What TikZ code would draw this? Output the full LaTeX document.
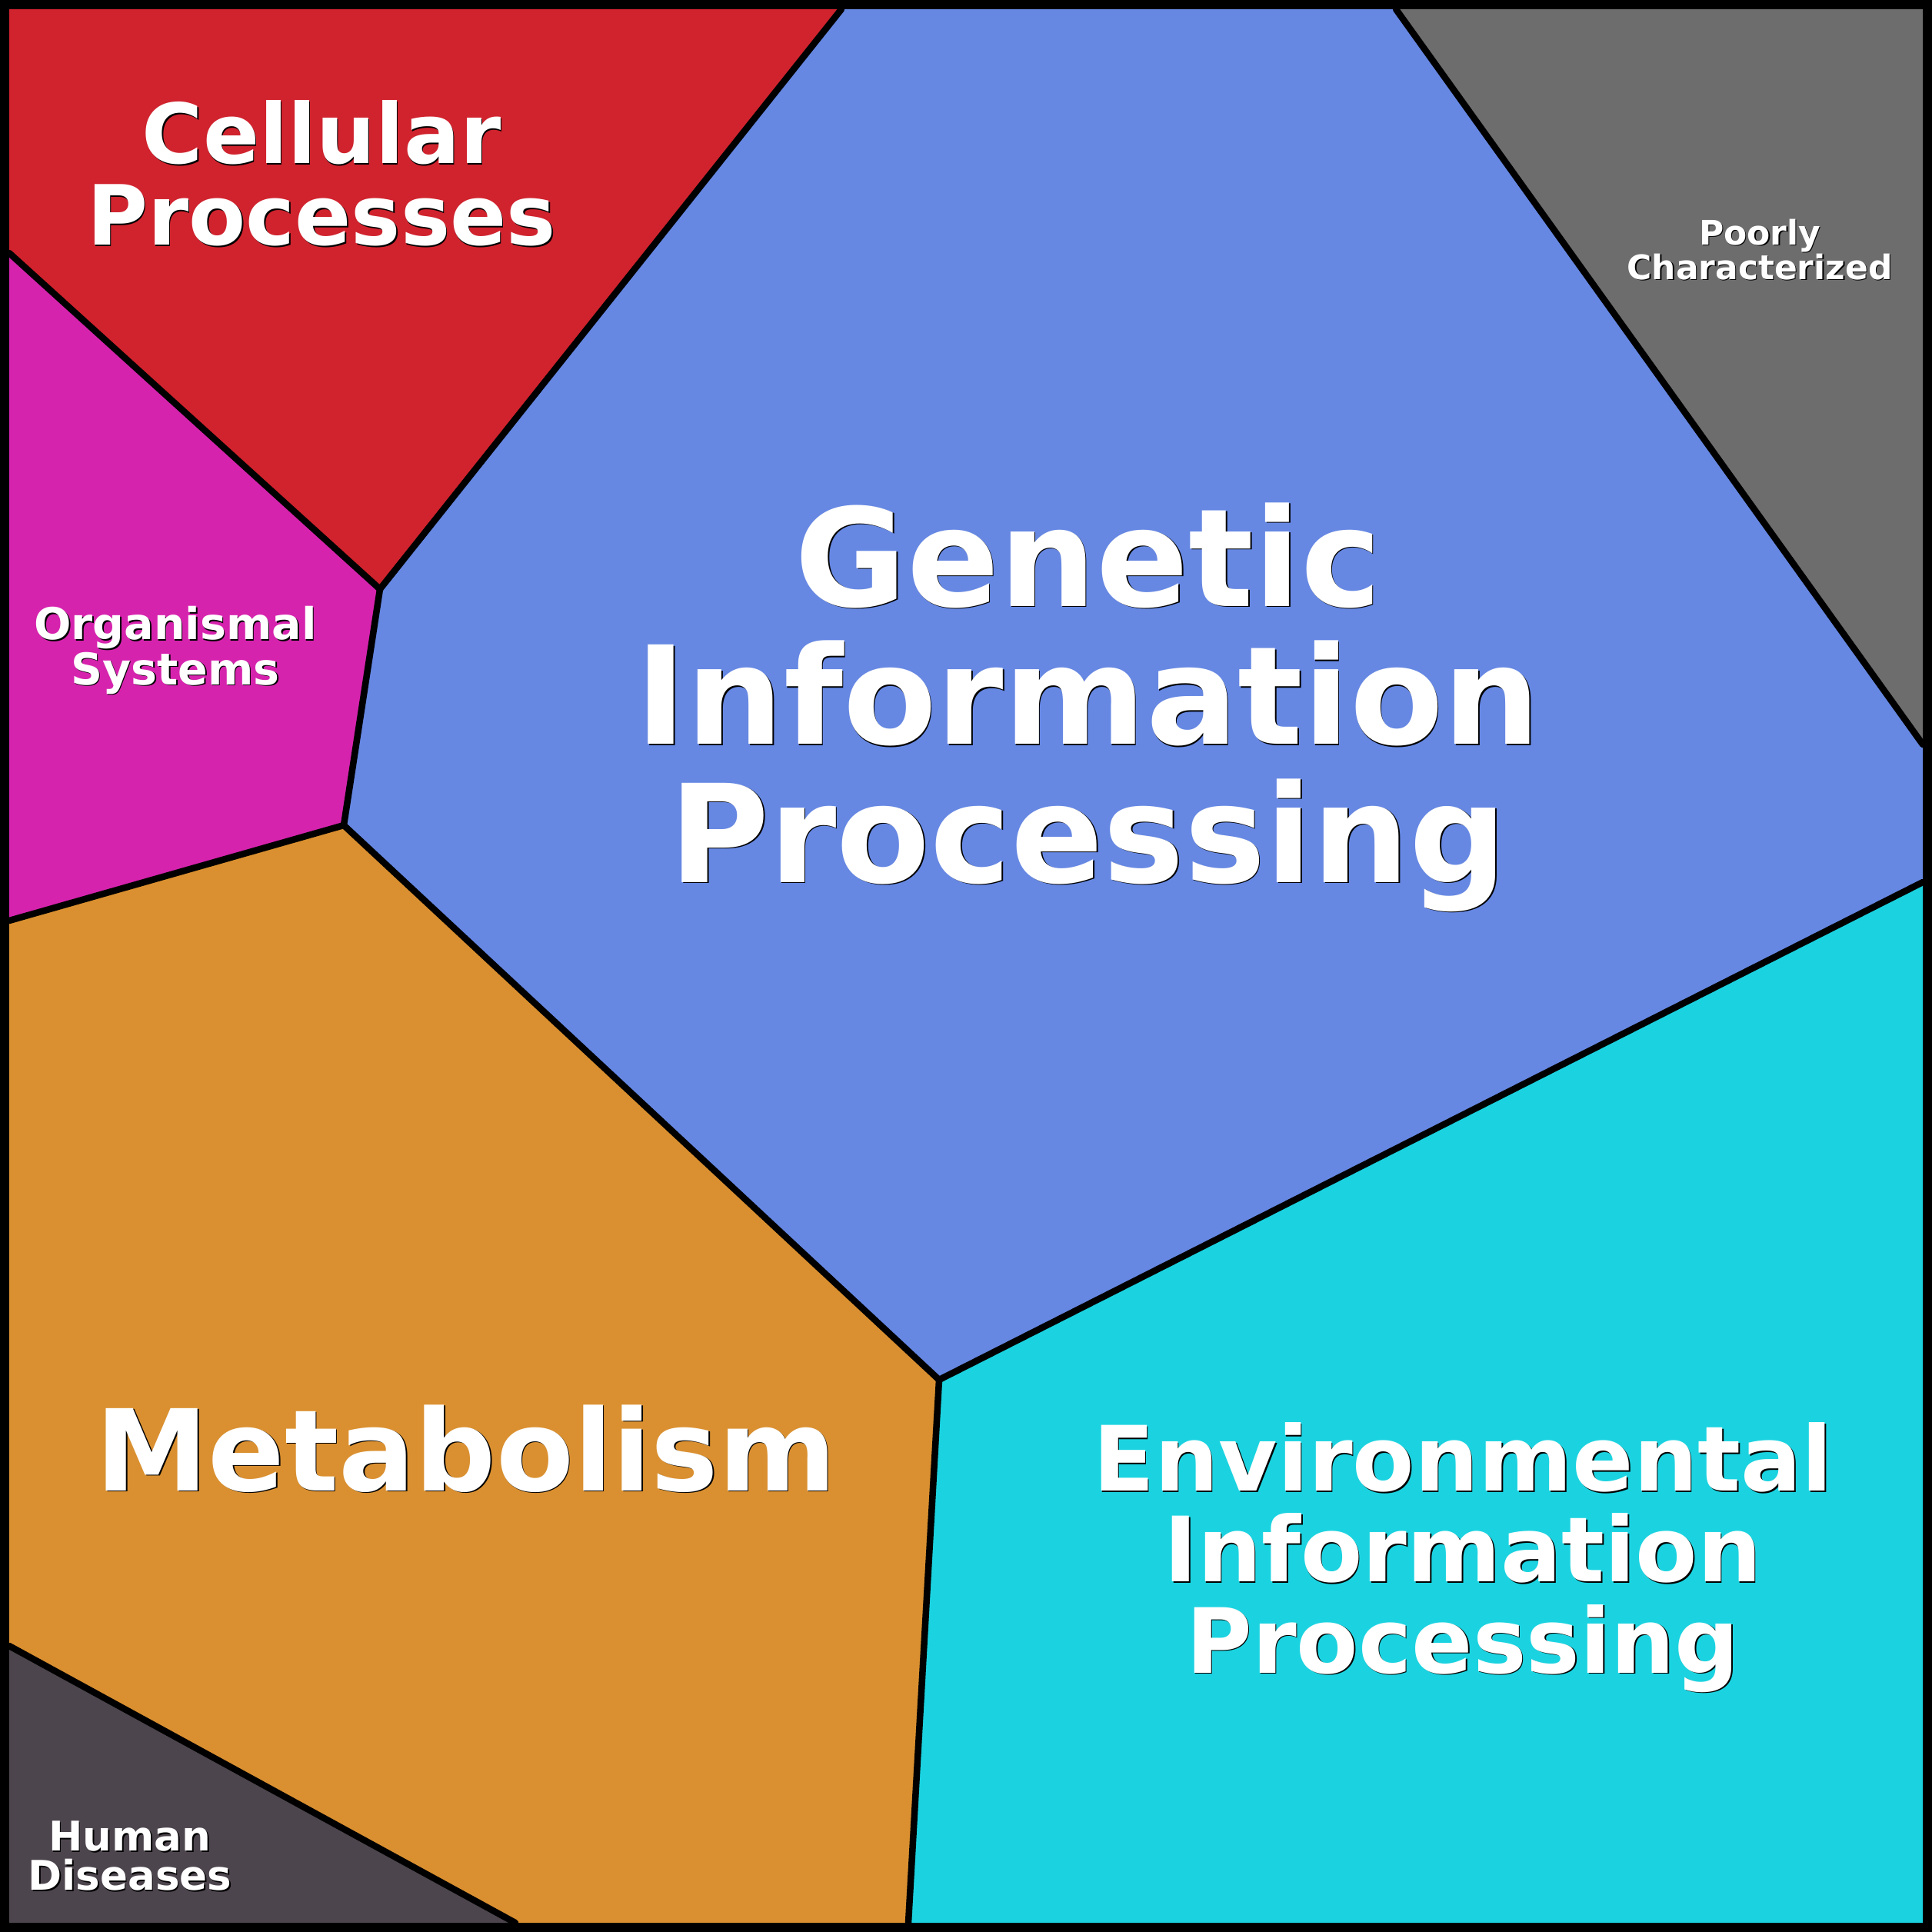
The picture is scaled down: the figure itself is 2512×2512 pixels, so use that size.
\documentclass[tikz,border=0pt]{standalone}
\usepackage{fontspec}
\setmainfont{DejaVu Sans}
\definecolor{cellred}{HTML}{D0232E}
\definecolor{orgmagenta}{HTML}{D623AE}
\definecolor{genblue}{HTML}{6688E3}
\definecolor{poorgray}{HTML}{6D6D6D}
\definecolor{metorange}{HTML}{DA9030}
\definecolor{humandark}{HTML}{4D454D}
\definecolor{envcyan}{HTML}{1BD3E0}
\tikzset{
        border/.style={draw=black, line width=0.085cm, line join=round, line cap=round},
        catname/.style={text=white, inner sep=0pt, align=center, anchor=north},
        shadowed/.style={text=black, xshift=0.45pt, yshift=-0.45pt}
          }
% name, position, font size and skip, text
\newcommand{\keggname}[4]{%
  \node[catname, shadowed, font={\bfseries\fontsize#3\selectfont}] (#1-shadow) at (#2) {#4};
  \node[catname, font={\bfseries\fontsize#3\selectfont}] (#1) at (#2) {#4};}

\begin{document}
\begin{tikzpicture}[x=0.01cm, y=-0.01cm]
        \fill[black] (0,0) rectangle (2512,2512);
        % corners and cell vertices
        \coordinate (c1) at (12,12);
        \coordinate (c2) at (2500,12);
        \coordinate (c3) at (2500,2500);
        \coordinate (c4) at (12,2500);
        \coordinate (p1) at (1094,12);
        \coordinate (p2) at (1815,12);
        \coordinate (p3) at (2500,968);
        \coordinate (p4) at (2500,1147);
        \coordinate (p5) at (1221,1794);
        \coordinate (p6) at (1181,2500);
        \coordinate (p7) at (670,2500);
        \coordinate (p8) at (12,2140);
        \coordinate (p9) at (12,1197);
        \coordinate (p10) at (447,1073);
        \coordinate (p11) at (494,766);
        \coordinate (p12) at (12,329);
        % cells
        \fill[cellred] (c1) -- (p1) -- (p11) -- (p12) -- cycle;
        \fill[orgmagenta] (p12) -- (p11) -- (p10) -- (p9) -- cycle;
        \fill[genblue] (p1) -- (p2) -- (p3) -- (p4) -- (p5) -- (p10) -- (p11) -- cycle;
        \fill[poorgray] (p2) -- (c2) -- (p3) -- cycle;
        \fill[metorange] (p9) -- (p10) -- (p5) -- (p6) -- (p7) -- (p8) -- cycle;
        \fill[humandark] (p8) -- (p7) -- (c4) -- cycle;
        \fill[envcyan] (p5) -- (p4) -- (c3) -- (p6) -- cycle;
        % borders between cells
        \draw[border] (p1) -- (p11) -- (p12);
        \draw[border] (p11) -- (p10) -- (p9);
        \draw[border] (p10) -- (p5) -- (p4);
        \draw[border] (p2) -- (p3);
        \draw[border] (p5) -- (p6);
        \draw[border] (p8) -- (p7);
        % labels
        \keggname{genetic}{1415,653}{{50.4pt}{51pt}}{Genetic\\Information\\Processing}
        \keggname{cellular}{418,130}{{30.7pt}{30.2pt}}{Cellular\\Processes}
        \keggname{poorly}{2288,284}{{12.5pt}{12.8pt}}{Poorly\\Characterized}
        \keggname{organismal}{228,788}{{16.2pt}{15.4pt}}{Organismal\\Systems}
        \keggname{human}{169,2367}{{15.1pt}{14.5pt}}{Human\\Diseases}
        \keggname{metabolism}{606,1826}{{41.8pt}{42pt}}{Metabolism}
        \keggname{environmental}{1902,1849}{{33.3pt}{33.6pt}}{Environmental\\Information\\Processing}
\end{tikzpicture}
\end{document}
